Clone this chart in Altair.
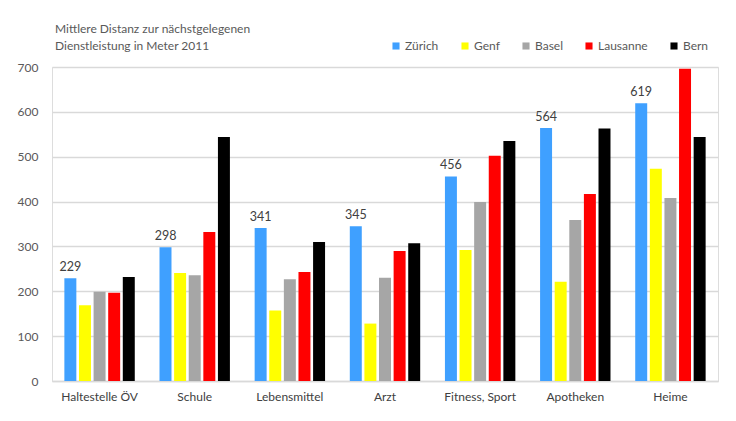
import altair as alt
import pandas as pd

categories = ["Haltestelle ÖV", "Schule", "Lebensmittel", "Arzt", "Fitness, Sport", "Apotheken", "Heime"]
series = ["Zürich", "Genf", "Basel", "Lausanne", "Bern"]
colors = ["#3fa0ff", "#ffff00", "#a6a6a6", "#ff0000", "#000000"]

zuerich = [229, 298, 341, 345, 456, 564, 619]
genf = [169, 241, 157, 128, 292, 221, 473]
basel = [199, 236, 227, 230, 399, 359, 408]
lausanne = [197, 332, 243, 290, 502, 417, 696]
bern = [232, 544, 310, 307, 535, 563, 544]

values = {"Zürich": zuerich, "Genf": genf, "Basel": basel, "Lausanne": lausanne, "Bern": bern}
rows = []
for s in series:
    for c, v in zip(categories, values[s]):
        rows.append({"Kategorie": c, "Stadt": s, "Wert": v})
df = pd.DataFrame(rows)

FONT = "Lato"

x = alt.X("Kategorie:N", sort=categories, title=None,
          scale=alt.Scale(paddingInner=0.26, paddingOuter=0.13),
          axis=alt.Axis(labelAngle=0, ticks=False, domainColor="#d9d9d9", domainWidth=1.5,
                        labelPadding=10, labelFontSize=12, labelColor="#404040", labelFont=FONT))
xoff = alt.XOffset("Stadt:N", sort=series, scale=alt.Scale(paddingInner=0.18))
y = alt.Y("Wert:Q", title=None, scale=alt.Scale(domain=[0, 700], nice=False),
          axis=alt.Axis(values=[0, 100, 200, 300, 400, 500, 600, 700], ticks=False, domain=False,
                        gridColor="#d9d9d9", gridWidth=1.5, labelPadding=14, labelFontSize=12,
                        labelColor="#595959", labelFont=FONT))

bars = alt.Chart(df).mark_bar().encode(
    x=x, xOffset=xoff, y=y,
    color=alt.Color("Stadt:N", sort=series, scale=alt.Scale(domain=series, range=colors),
                    legend=alt.Legend(title=None, orient="none", direction="horizontal",
                                      legendX=338, legendY=-27, symbolType="square", symbolSize=50,
                                      symbolStrokeWidth=0, labelFontSize=12, labelColor="#595959",
                                      labelFont=FONT, labelOffset=3, columnPadding=20, padding=0))
)

labels = alt.Chart(df[df["Stadt"] == "Zürich"]).mark_text(
    dy=-11, fontSize=12.5, color="#404040", font=FONT
).encode(x=x, xOffset=xoff, y=y, text="Wert:Q")

chart = (bars + labels).properties(
    width=666, height=314,
    autosize=alt.AutoSizeParams(type="none"),
    padding={"left": 44, "top": 59, "right": 10, "bottom": 32},
    title=alt.TitleParams(text=["Mittlere Distanz zur nächstgelegenen", "Dienstleistung  in Meter 2011"],
                          anchor="start", frame="group", dx=3, offset=-13, fontSize=12,
                          fontWeight="normal", color="#595959", font=FONT, lineHeight=17)
).configure_view(stroke=None).configure(background="white")

chart.save("out.html", embed_options={"renderer": "svg", "actions": False})
